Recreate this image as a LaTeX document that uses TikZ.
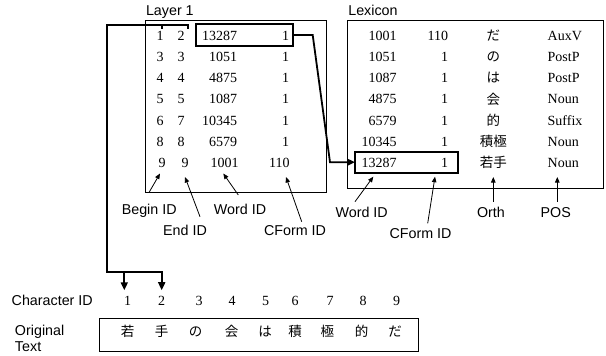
\documentclass[tikz,border=0pt]{standalone}
\usepackage{fontspec}
\setmainfont{Liberation Serif}
\newfontfamily\sansf{Liberation Sans}
\newfontfamily\jpf{Noto Sans CJK JP}
\usetikzlibrary{arrows.meta}
\begin{document}
\begin{tikzpicture}[x=1pt,y=-1pt,
  every node/.style={inner sep=0pt, outer sep=0pt},
  num/.style={font=\fontsize{14}{16}\selectfont, anchor=base},
  lbl/.style={font=\sansf\fontsize{14.3}{16}\selectfont, anchor=base},
  jp/.style={font=\jpf\fontsize{13.5}{16}\selectfont, anchor=base},
  thinbox/.style={draw, line width=0.8pt, anchor=north west},
  hlbox/.style={draw, line width=1.8pt},
  thicklink/.style={line width=1.8pt, line join=miter},
  bigtip/.style={thicklink, -{Triangle[length=8pt,width=7pt]}},
  ptr/.style={line width=0.8pt, -{Triangle[length=5.5pt,width=4.5pt]}}
]
\useasboundingbox (0,0) rectangle (606,356);

% ---------- Layer 1 ----------
\node[lbl, anchor=base west] (layertitle) at (146,15.5) {Layer 1};
\node[thinbox, minimum width=180.3pt, minimum height=172pt] (layer) at (145.7,20) {};
\foreach \y/\a/\b/\c/\d [count=\i] in {35.5/1/2/13287/1, 56.7/3/3/1051/1, 77.9/4/4/4875/1,
   99.1/5/5/1087/1, 120.3/6/7/10345/1, 141.5/8/8/6579/1}{
  \node[num] (la\i) at (160,\y+4.8) {\a};
  \node[num] (lb\i) at (181,\y+4.8) {\b};
  \node[num, anchor=base east] (lc\i) at (237,\y+4.8) {\c};
  \node[num, anchor=base east] (ld\i) at (289,\y+4.8) {\d};
}
\node[num] (la7) at (162,167.5) {9};
\node[num] (lb7) at (185,167.5) {9};
\node[num, anchor=base east] (lc7) at (238.5,167.5) {1001};
\node[num, anchor=base east] (ld7) at (289.5,167.5) {110};
\node[hlbox, minimum width=96.7pt, minimum height=21.4pt] (hl1) at (244.35,35) {};

% ---------- Lexicon ----------
\node[lbl, anchor=base west] (lextitle) at (348.3,15.5) {Lexicon};
\node[thinbox, minimum width=255.6pt, minimum height=168.3pt] (lex) at (347.7,20) {};
\foreach \y/\a/\b/\c/\d [count=\i] in {35.5/1001/110/だ/AuxV, 56.7/1051/1/の/PostP,
   77.9/1087/1/は/PostP, 99.1/4875/1/会/Noun, 120.3/6579/1/的/Suffix,
   141.5/10345/1/積極/Noun, 162.7/13287/1/若手/Noun}{
  \node[num, anchor=base east] (xa\i) at (396.5,\y+4.8) {\a};
  \node[num, anchor=base east] (xb\i) at (448,\y+4.8) {\b};
  \node[jp] (xc\i) at (493.3,\y+5) {\c};
  \node[num, anchor=base west] (xd\i) at (547.7,\y+4.8) {\d};
}
\node[hlbox, minimum width=102.7pt, minimum height=21pt] (hl2) at (406.35,162.2) {};

% ---------- link Layer 1 -> Lexicon ----------
\coordinate (k1) at ([xshift=20pt]hl1.east);
\coordinate (k2) at ([xshift=-25pt]hl2.west);
\draw[bigtip] (hl1.east) -- (k1) -- (k2) -- (hl2.west);

% ---------- labels below tables ----------
\node[lbl] (beginid) at (149.2,214.3) {Begin ID};
\node[lbl] (endid) at (185,235) {End ID};
\node[lbl] (wordid) at (240,214.3) {Word ID};
\node[lbl] (cformid) at (295,235) {CForm ID};
\node[lbl] (xwordid) at (361.7,217.3) {Word ID};
\node[lbl] (xcformid) at (420.5,238.3) {CForm ID};
\node[lbl] (orth) at (491,217.3) {Orth};
\node[lbl] (pos) at (555.8,217.3) {POS};

\draw[ptr] (149,192.5) -- (160,173.5);
\draw[ptr] (200,216.7) -- (185,177);
\draw[ptr] (238.3,195) -- (223.3,173.5);
\draw[ptr] (301.7,221.7) -- (286,177);
\draw[ptr] (355,201.7) -- (373.3,176.7);
\draw[ptr] (427.7,223.3) -- (435,176.7);
\draw[ptr] (493.3,201.7) -- (493.3,177);
\draw[ptr] (557.3,201.7) -- (557.3,177);

% ---------- Character IDs and original text ----------
\node[lbl, anchor=base west] (charid) at (11.7,305.7) {Character ID};
\node[lbl, anchor=base west] (orig1) at (15,335) {Original};
\node[lbl, anchor=base west] (orig2) at (15,351.7) {Text};
\foreach \x [count=\i] in {127.7,161.7,199,232,265.7,295,330,363,396.7}{
  \node[num] (id\i) at (\x,305.5) {\i};
}
\node[thinbox, minimum width=319pt, minimum height=33.4pt] (textbox) at (99.3,318.3) {};
\foreach \x/\c [count=\i] in {127.7/若,161.7/手,195.7/の,231.7/会,265/は,295/積,327.3/極,361.7/的,395/だ}{
  \node[jp] (ch\i) at (\x,336.7) {\c};
}

% ---------- bracket from Begin/End ID to characters ----------
\coordinate (t1) at (188,28.5);
\coordinate (t2) at (188,25);
\coordinate (t3) at (107,25);
\coordinate (t4) at (107,271.7);
\coordinate (t5) at (161.7,271.7);
\coordinate (t6) at (124.3,271.7);
\draw[bigtip] (t1) -- (t2) -- (t3) -- (t4) -- (t5) -- ([yshift=6pt]id2.north -| t5);
\draw[thicklink] (162.3,25) -- (162.3,28.5);
\draw[bigtip] (t6) -- ([yshift=6pt]id1.north -| t6);
\end{tikzpicture}
\end{document}
